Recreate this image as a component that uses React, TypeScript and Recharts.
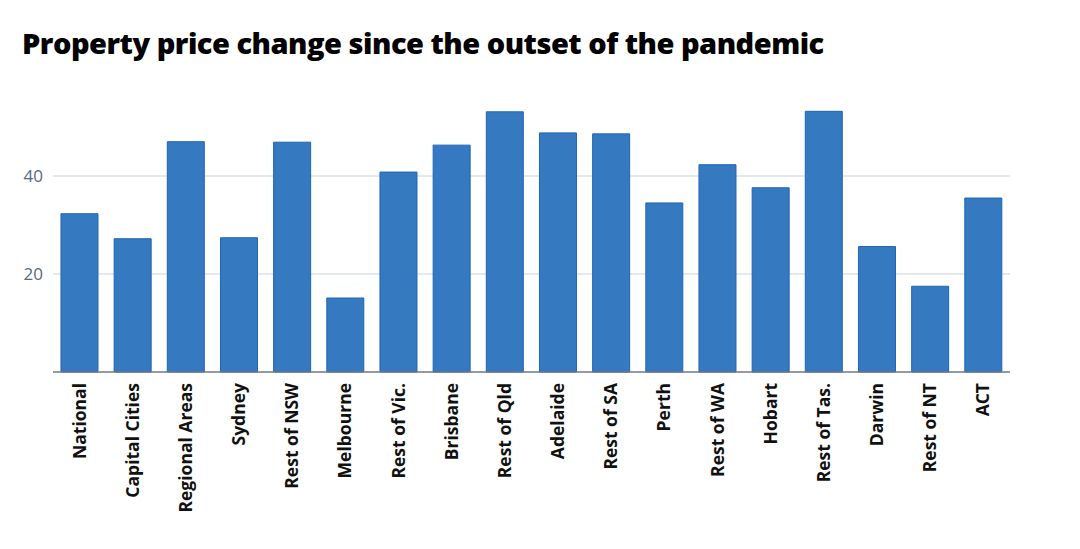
import { BarChart, Bar, XAxis, YAxis, CartesianGrid } from "recharts"

const regions = [
  "National",
  "Capital Cities",
  "Regional Areas",
  "Sydney",
  "Rest of NSW",
  "Melbourne",
  "Rest of Vic.",
  "Brisbane",
  "Rest of Qld",
  "Adelaide",
  "Rest of SA",
  "Perth",
  "Rest of WA",
  "Hobart",
  "Rest of Tas.",
  "Darwin",
  "Rest of NT",
  "ACT",
]

const priceChange = [
  32.3, 27.2, 47.0, 27.4, 46.9, 15.1, 40.8, 46.3, 53.1, 48.8, 48.6, 34.5, 42.3, 37.6, 53.2, 25.6, 17.5, 35.5,
]

const yTicks = [20, 40]

const data = regions.map((region, i) => ({ region, value: priceChange[i] }))

function RotatedTick(props: any) {
  const { x, y, payload } = props
  return (
    <text
      x={x}
      y={y}
      transform={`rotate(-90, ${x}, ${y})`}
      dx={-3}
      dy={6}
      textAnchor="end"
      fontFamily="'Open Sans', sans-serif"
      fontWeight={700}
      fontSize={17.5}
      fill="#111"
    >
      {payload.value}
    </text>
  )
}

export default function App() {
  return (
    <div style={{ position: "absolute", left: 0, top: 0, width: 1080, height: 549, background: "#fff" }}>
      <div
        style={{
          position: "absolute",
          left: 22,
          top: 23,
          fontFamily: "'Open Sans', sans-serif",
          fontWeight: 800,
          fontSize: 29,
          letterSpacing: -0.5,
          color: "#000",
          whiteSpace: "nowrap",
        }}
      >
        Property price change since the outset of the pandemic
      </div>
      <BarChart
        width={1080}
        height={549}
        data={data}
        margin={{ top: 78, right: 70, left: 0, bottom: 17 }}
        barCategoryGap="15%"
      >
        <CartesianGrid vertical={false} stroke="#c9d3df" horizontalValues={yTicks} />
        <XAxis
          dataKey="region"
          interval={0}
          height={160}
          tick={<RotatedTick />}
          tickLine={false}
          axisLine={{ stroke: "#6f7888", strokeWidth: 1.5 }}
        />
        <YAxis
          width={53}
          domain={[0, 60]}
          ticks={yTicks}
          tickLine={false}
          axisLine={false}
          tickMargin={4}
          tick={{ fill: "#5a6982", fontSize: 17, fontFamily: "'Open Sans', sans-serif" }}
        />
        <Bar dataKey="value" fill="#3579c1" stroke="#1d65b5" strokeWidth={1} isAnimationActive={false} />
      </BarChart>
    </div>
  )
}
